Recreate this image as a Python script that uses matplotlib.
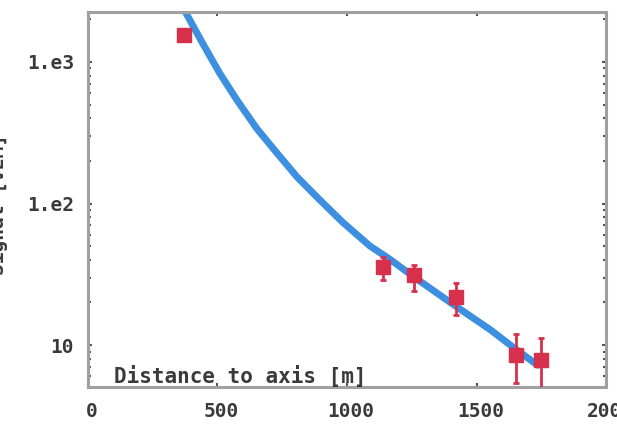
import matplotlib.pyplot as plt
import matplotlib.transforms as mtransforms

# measured stations
dist = [372, 1140, 1260, 1422, 1651, 1750]
signal = [1552, 35.6, 31.3, 21.8, 8.5, 7.8]
err_lo = [1420, 28.8, 24.1, 16.3, 5.4, 4.8]
err_hi = [1700, 41.9, 36.7, 27.4, 12.0, 11.2]

# fitted lateral distribution
fit_x = [372, 442, 508, 574, 651, 729, 806, 884, 984, 1089, 1167, 1256, 1411, 1554, 1643, 1736]
fit_y = [2328, 1362, 836, 542, 340, 228, 155, 111, 73.5, 50.0, 40.2, 30.5, 19.3, 12.8, 9.6, 7.2]

xticks = [0, 500, 1000, 1500, 2000]
xticklabels = ["0", "500", "1000", "1500", "2000"]
yticks = [10, 100, 1000]
yticklabels = ["10", "1.e2", "1.e3"]

font = dict(family="DejaVu Sans Mono", fontweight="bold", color="#3a3a3a")

fig = plt.figure(figsize=(6.17, 4.26), dpi=100)
ax = fig.add_axes([0.1426, 0.0915, 0.8396, 0.8803])

ax.plot(fit_x, fit_y, color="#3d8fe0", linewidth=5, solid_capstyle="round",
        solid_joinstyle="round", zorder=2)

yerr = [[s - lo for s, lo in zip(signal, err_lo)],
        [hi - s for s, hi in zip(signal, err_hi)]]
ax.errorbar(dist, signal, yerr=yerr, fmt="s", color="#d6304c", markersize=10.5,
            elinewidth=2, capsize=2.5, capthick=2, zorder=3)

ax.set_yscale("log")
ax.set_xlim(0, 2000)
ax.set_ylim(5.05, 2255)

ax.set_xticks(xticks)
ax.set_xticklabels(xticklabels, fontsize=14, **font)
ax.set_yticks(yticks)
ax.set_yticklabels(yticklabels, fontsize=14, **font)
ax.tick_params(axis="both", which="both", direction="in", top=True, right=True,
               length=3, width=1.5, color="#555555")
ax.tick_params(axis="x", pad=11)
ax.tick_params(axis="y", pad=10)
ax.tick_params(axis="y", which="minor", length=2.5, width=1.5)

# labels sit a few pixels right of their ticks
shift = mtransforms.ScaledTranslation(4 / 100, 0, fig.dpi_scale_trans)
for lbl in ax.get_xticklabels():
    lbl.set_transform(lbl.get_transform() + shift)

for s in ax.spines.values():
    s.set_color("#a0a0a0")
    s.set_linewidth(2.2)

ax.text(0.05, 0.03, "Distance to axis [m]", transform=ax.transAxes, fontsize=15,
        ha="left", va="center", **font)
fig.text(8 / 617, 0.52, "Signal [VEM]", rotation=90, ha="right", va="center",
         fontsize=14, **font)

fig.savefig("out.png", dpi=100)
